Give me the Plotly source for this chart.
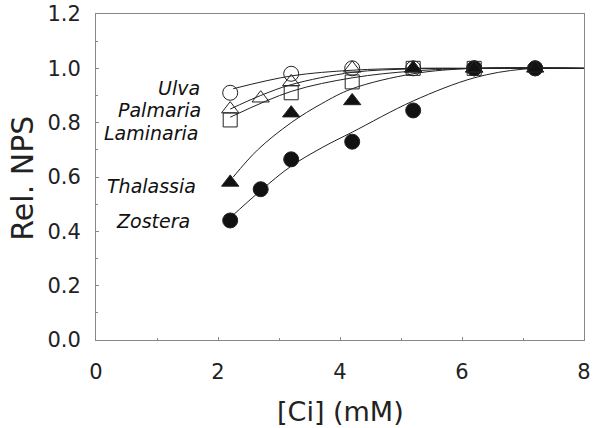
import plotly.graph_objects as go

# Measured data points
ulva_x = [2.2, 3.2, 4.2, 5.2, 6.2, 7.2]
ulva_y = [0.91, 0.98, 1.0, 1.0, 1.0, 1.0]
palmaria_x = [2.2, 2.7, 3.2, 4.2, 5.2, 6.2]
palmaria_y = [0.85, 0.89, 0.95, 1.0, 1.0, 1.0]
laminaria_x = [2.2, 3.2, 4.2, 5.2, 6.2]
laminaria_y = [0.81, 0.91, 0.95, 1.0, 1.0]
thalassia_x = [2.2, 3.2, 4.2, 5.2, 6.2, 7.2]
thalassia_y = [0.58, 0.835, 0.88, 1.0, 1.0, 1.0]
zostera_x = [2.2, 2.7, 3.2, 4.2, 5.2, 6.2, 7.2]
zostera_y = [0.44, 0.555, 0.665, 0.73, 0.845, 1.0, 1.0]

# Fitted curves
ulva_fx = [2.25, 3.2, 4.2, 5.2, 6.2, 8.0]
ulva_fy = [0.925, 0.972, 0.993, 1.0, 1.0, 1.0]
palmaria_fx = [2.2, 2.7, 3.2, 4.2, 5.2, 6.2, 8.0]
palmaria_fy = [0.85, 0.90, 0.94, 0.985, 0.998, 1.0, 1.0]
laminaria_fx = [2.2, 3.2, 4.2, 5.2, 6.2, 8.0]
laminaria_fy = [0.82, 0.915, 0.965, 0.99, 1.0, 1.0]
thalassia_fx = [2.25, 2.65, 3.2, 3.7, 4.2, 5.2, 6.2, 8.0]
thalassia_fy = [0.60, 0.70, 0.80, 0.87, 0.925, 0.98, 1.0, 1.0]
zostera_fx = [2.2, 2.7, 3.2, 3.72, 4.2, 5.2, 6.2, 7.0, 8.0]
zostera_fy = [0.45, 0.55, 0.64, 0.71, 0.765, 0.88, 0.965, 0.997, 1.0]

labels = ["Ulva", "Palmaria", "Laminaria", "Thalassia", "Zostera"]
label_x = [1.74, 1.75, 1.7, 1.67, 1.57]
label_y = [0.927, 0.846, 0.762, 0.567, 0.438]

x_ticks = [0, 2, 4, 6, 8]
y_ticks = [0.0, 0.2, 0.4, 0.6, 0.8, 1.0, 1.2]

FONT = "DejaVu Sans"
TXT = "#222"

fig = go.Figure()

curves = [(ulva_fx, ulva_fy), (palmaria_fx, palmaria_fy), (laminaria_fx, laminaria_fy),
          (thalassia_fx, thalassia_fy), (zostera_fx, zostera_fy)]
for cx, cy in curves:
    fig.add_trace(go.Scatter(x=cx, y=cy, mode="lines", line=dict(color="#222", width=1, shape="spline"),
                             showlegend=False, hoverinfo="skip"))

mk_line = dict(color="#222", width=1)
fig.add_trace(go.Scatter(x=zostera_x, y=zostera_y, mode="markers",
                         marker=dict(symbol="circle", size=15, color="#111", line=mk_line), showlegend=False))
fig.add_trace(go.Scatter(x=thalassia_x, y=thalassia_y, mode="markers",
                         marker=dict(symbol="triangle-up", size=15, color="#111", line=mk_line), showlegend=False))
fig.add_trace(go.Scatter(x=laminaria_x, y=laminaria_y, mode="markers",
                         marker=dict(symbol="square-open", size=14, color="#222", line=dict(width=1)), showlegend=False))
fig.add_trace(go.Scatter(x=palmaria_x, y=palmaria_y, mode="markers",
                         marker=dict(symbol="triangle-up-open", size=15, color="#222", line=dict(width=1)), showlegend=False))
fig.add_trace(go.Scatter(x=ulva_x, y=ulva_y, mode="markers",
                         marker=dict(symbol="circle-open", size=15, color="#222", line=dict(width=1)), showlegend=False))

for t, lx, ly in zip(labels, label_x, label_y):
    fig.add_annotation(x=lx, y=ly, xref="x", yref="y", text="<i>" + t + "</i>", showarrow=False,
                       xanchor="right", yanchor="middle",
                       font=dict(family=FONT, size=19, color="#111"))

fig.add_annotation(x=0.5, y=0, xref="paper", yref="paper", text="[Ci] (mM)", showarrow=False,
                   xanchor="center", yanchor="middle", yshift=-71,
                   font=dict(family=FONT, size=27, color=TXT))
fig.add_annotation(x=0, y=0.495, xref="paper", yref="paper", text="Rel. NPS", showarrow=False,
                   xanchor="center", yanchor="middle", xshift=-73, textangle=-90,
                   font=dict(family=FONT, size=30, color=TXT))

axis_common = dict(showline=True, linecolor="#888", linewidth=1, mirror=True, ticks="inside",
                   ticklen=3, tickcolor="#888", showgrid=False, zeroline=False, automargin=False,
                   ticklabeloverflow="allow")

fig.update_xaxes(range=[0, 8], tickvals=x_ticks, ticktext=[str(v) for v in x_ticks],
                 minor=dict(dtick=1, ticks="inside", ticklen=2, tickcolor="#888"),
                 tickfont=dict(family=FONT, size=21, color=TXT),
                 ticklabelstandoff=13, **axis_common)
fig.update_yaxes(range=[0, 1.2], tickvals=y_ticks, ticktext=[f"{v:.1f}" for v in y_ticks],
                 minor=dict(dtick=0.1, ticks="inside", ticklen=2, tickcolor="#888"),
                 tickfont=dict(family=FONT, size=21, color=TXT),
                 ticklabelstandoff=10, **axis_common)

fig.update_layout(width=597, height=428, margin=dict(l=96, r=13, t=14, b=88),
                  plot_bgcolor="white", paper_bgcolor="white")

# remove the browser's default 8px body margin so the figure fills the window exactly
fig.write_html("out.html", config={"displayModeBar": False},
               post_script="document.body.style.margin='0';")
